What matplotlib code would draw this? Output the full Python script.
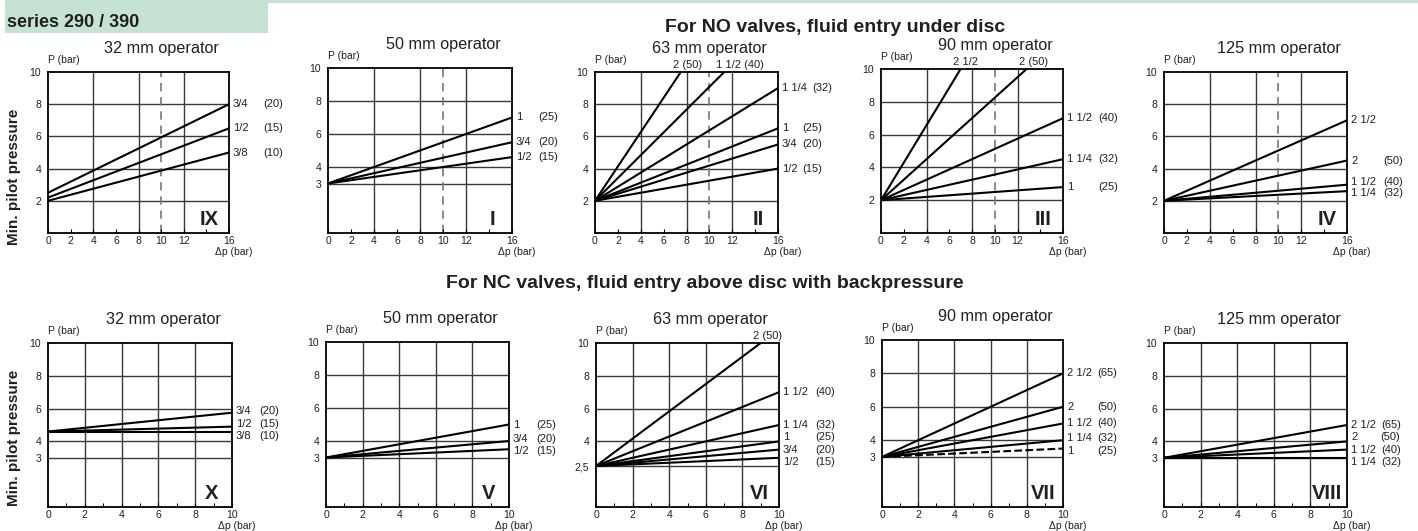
import matplotlib
matplotlib.use('Agg')
import matplotlib.pyplot as plt
from matplotlib.patches import Rectangle

plt.rcParams['font.family'] = ['Liberation Sans', 'DejaVu Sans']

W, H, DPI = 1418, 531, 100
INK = '#231f20'

# ---------------- data ----------------
# NO valves (top row), x = delta p 0..16 bar
no_title = 'For NO valves, fluid entry under disc'
nc_title = 'For NC valves, fluid entry above disc with backpressure'
operators = ['32 mm operator', '50 mm operator', '63 mm operator', '90 mm operator', '125 mm operator']
no_numerals = ['IX', 'I', 'II', 'III', 'IV']
nc_numerals = ['X', 'V', 'VI', 'VII', 'VIII']
no_xticks = [0, 2, 4, 6, 8, 10, 12, 14, 16]
no_xlabels = ['0', '2', '4', '6', '8', '10', '12', '', '16']
nc_xticks = [0, 1, 2, 3, 4, 5, 6, 7, 8, 9, 10]
nc_xlabels = ['0', '', '2', '', '4', '', '6', '', '8', '', '10']

ix_sizes = ['3/4', '1/2', '3/8']
ix_mm = ['(20)', '(15)', '(10)']
ix_p0 = [2.5, 2.2, 2.0]
ix_dp1 = [16, 16, 16]
ix_p1 = [8.0, 6.5, 5.0]
ix_yticks = [2, 4, 6, 8, 10]

i_sizes = ['1', '3/4', '1/2']
i_mm = ['(25)', '(20)', '(15)']
i_p0 = [3.0, 3.0, 3.0]
i_dp1 = [16, 16, 16]
i_p1 = [7.0, 5.5, 4.6]
i_yticks = [3, 4, 6, 8, 10]

ii_sizes = ['2', '1 1/2', '1 1/4', '1', '3/4', '1/2']
ii_mm = ['(50)', '(40)', '(32)', '(25)', '(20)', '(15)']
ii_p0 = [2.0, 2.0, 2.0, 2.0, 2.0, 2.0]
ii_dp1 = [7.5, 11.3, 16, 16, 16, 16]
ii_p1 = [10.0, 10.0, 9.0, 6.5, 5.5, 4.0]
ii_yticks = [2, 4, 6, 8, 10]

iii_sizes = ['2 1/2', '2', '1 1/2', '1 1/4', '1']
iii_mm = ['', '(50)', '(40)', '(32)', '(25)']
iii_p0 = [2.0, 2.0, 2.0, 2.0, 2.0]
iii_dp1 = [7.0, 12.8, 16, 16, 16]
iii_p1 = [10.0, 10.0, 7.0, 4.5, 2.8]
iii_yticks = [2, 4, 6, 8, 10]

iv_sizes = ['2 1/2', '2', '1 1/2', '1 1/4']
iv_mm = ['', '(50)', '(40)', '(32)']
iv_p0 = [2.0, 2.0, 2.0, 2.0]
iv_dp1 = [16, 16, 16, 16]
iv_p1 = [7.0, 4.5, 3.0, 2.6]
iv_yticks = [2, 4, 6, 8, 10]

# NC valves (bottom row), x = delta p 0..10 bar
x_sizes = ['3/4', '1/2', '3/8']
x_mm = ['(20)', '(15)', '(10)']
x_p0 = [4.6, 4.6, 4.6]
x_dp1 = [10, 10, 10]
x_p1 = [5.75, 4.9, 4.6]
x_yticks = [3, 4, 6, 8, 10]

v_sizes = ['1', '3/4', '1/2']
v_mm = ['(25)', '(20)', '(15)']
v_p0 = [3.0, 3.0, 3.0]
v_dp1 = [10, 10, 10]
v_p1 = [5.0, 4.0, 3.5]
v_yticks = [3, 4, 6, 8, 10]

vi_sizes = ['2', '1 1/2', '1 1/4', '1', '3/4', '1/2']
vi_mm = ['(50)', '(40)', '(32)', '(25)', '(20)', '(15)']
vi_p0 = [2.5, 2.5, 2.5, 2.5, 2.5, 2.5]
vi_dp1 = [9.0, 10, 10, 10, 10, 10]
vi_p1 = [10.0, 7.0, 5.0, 4.0, 3.5, 3.0]
vi_yticks = [2.5, 4, 6, 8, 10]

vii_sizes = ['2 1/2', '2', '1 1/2', '1 1/4', '1']
vii_mm = ['(65)', '(50)', '(40)', '(32)', '(25)']
vii_p0 = [3.0, 3.0, 3.0, 3.0, 3.0]
vii_dp1 = [10, 10, 10, 10, 10]
vii_p1 = [8.0, 6.0, 5.0, 4.0, 3.5]
vii_dashed = ['1']
vii_yticks = [3, 4, 6, 8, 10]

viii_sizes = ['2 1/2', '2', '1 1/2', '1 1/4']
viii_mm = ['(65)', '(50)', '(40)', '(32)']
viii_p0 = [3.0, 3.0, 3.0, 3.0]
viii_dp1 = [10, 10, 10, 10]
viii_p1 = [5.0, 4.0, 3.5, 3.0]
viii_yticks = [3, 4, 6, 8, 10]

# ---------------- layout (pixels) ----------------
top_boxes = [(48, 72, 229, 233), (328, 68, 512, 233), (595, 72, 778, 233),
             (881, 69, 1063, 233), (1164, 72, 1347, 233)]
bot_boxes = [(48, 343, 232, 507), (326, 342, 509, 507), (596, 343, 779, 507),
             (882, 340, 1063, 507), (1164, 343, 1347, 507)]
top_mmcol = [34, 26, 24, 35, 36]
bot_mmcol = [27, 27, 36, 34, 33]

PT = 72.0 / DPI  # pixels -> points

fig = plt.figure(figsize=(W / DPI, H / DPI), dpi=DPI)
fig.patch.set_facecolor('white')

# header band
fig.patches.append(Rectangle((5 / W, 1 - 33 / H), 263 / W, 33 / H, transform=fig.transFigure,
                             facecolor='#c6e2d3', edgecolor='none', zorder=0))
fig.patches.append(Rectangle((268 / W, 1 - 3 / H), 1150 / W, 3 / H, transform=fig.transFigure,
                             facecolor='#c6e2d3', edgecolor='none', zorder=0))
fig.text(7 / W, 1 - 27 / H, 'series 290 / 390', fontsize=13, fontweight='bold', color=INK,
         ha='left', va='baseline')
fig.text(835 / W, 1 - 32 / H, no_title, fontsize=14, fontweight='bold', color=INK,
         ha='center', va='baseline')
fig.text(705 / W, 1 - 288 / H, nc_title, fontsize=14, fontweight='bold', color=INK,
         ha='center', va='baseline')
fig.text(14 / W, 1 - 177 / H, 'Min. pilot pressure', rotation=90, fontsize=11, fontweight='bold',
         color=INK, ha='center', va='center')
fig.text(14 / W, 1 - 438 / H, 'Min. pilot pressure', rotation=90, fontsize=11, fontweight='bold',
         color=INK, ha='center', va='center')


def declutter(vals, gap):
    order = sorted(range(len(vals)), key=lambda k: vals[k])
    y = [vals[k] for k in order]
    for _ in range(300):
        moved = False
        for i in range(len(y) - 1):
            d = y[i + 1] - y[i]
            if d < gap - 1e-6:
                s = (gap - d) / 2
                y[i] -= s
                y[i + 1] += s
                moved = True
        if not moved:
            break
    out = [0.0] * len(vals)
    for j, k in enumerate(order):
        out[k] = y[j]
    return out


pending_mm = []


def panel(box, xmax, xticks, xlabels, xgrid, dashed_x, yticks, title, numeral,
          sizes, mm, p0, dp1, p1, mmcol, gap, dashed_sizes=()):
    l, t, r, b = box
    ax = fig.add_axes([l / W, 1 - b / H, (r - l) / W, (b - t) / H])
    ax.set_xlim(0, xmax)
    ax.set_ylim(0, 10)
    for s in ax.spines.values():
        s.set_linewidth(1.3)
        s.set_color('black')
        s.set_zorder(5)
    for gx in xgrid:
        ax.axvline(gx, color='#3a3a3a', lw=1.0, zorder=1)
    for gy in yticks:
        if gy < 10:
            ax.axhline(gy, color='#3a3a3a', lw=1.0, zorder=1)
    if dashed_x is not None:
        ax.axvline(dashed_x, color='#777777', lw=1.2, ls=(0, (5, 3.5)), zorder=1)
    ax.set_xticks(xticks)
    ax.set_xticklabels(xlabels)
    ax.set_yticks(yticks)
    ax.set_yticklabels([('%g' % v).replace('.', ',') for v in yticks])
    ax.tick_params(axis='x', direction='in', length=3, width=0.8, pad=2.5, labelsize=7.5,
                   labelcolor=INK)
    ax.tick_params(axis='y', length=0, pad=5, labelsize=7.5, labelcolor=INK)

    for k in range(len(sizes)):
        ls = '--' if sizes[k] in dashed_sizes else '-'
        ax.plot([0, dp1[k]], [p0[k], p1[k]], color='black', lw=1.5, ls=ls,
                solid_capstyle='butt', zorder=3)

    right = [k for k in range(len(sizes)) if p1[k] < 10]
    ly = declutter([p1[k] for k in right], gap)
    for k, yv in zip(right, ly):
        st = ax.annotate(sizes[k], xy=(1, yv), xycoords=('axes fraction', 'data'),
                         xytext=(4 * PT, 0), textcoords='offset points', ha='left', va='center',
                         fontsize=8, color=INK, annotation_clip=False)
        if mm[k]:
            pending_mm.append((ax, st, mm[k], yv, mmcol))
    for k in range(len(sizes)):
        if p1[k] >= 10:
            lab = (sizes[k] + ' ' + mm[k]).strip()
            ax.annotate(lab, xy=(dp1[k], 10), xycoords='data', xytext=(-8 * PT, 2 * PT),
                        textcoords='offset points', ha='left', va='bottom', fontsize=8,
                        color=INK, annotation_clip=False)

    ax.annotate('P (bar)', xy=(0, 1), xycoords='axes fraction', xytext=(0, 7 * PT),
                textcoords='offset points', ha='left', va='bottom', fontsize=7.5, color=INK)
    ax.annotate('\u0394p (bar)', xy=(1, 0), xycoords='axes fraction', xytext=(-14 * PT, -14 * PT),
                textcoords='offset points', ha='left', va='top', fontsize=7.5, color=INK)
    ax.annotate(title, xy=(0.5, 1), xycoords='axes fraction', xytext=(23 * PT, 19 * PT),
                textcoords='offset points', ha='center', va='baseline', fontsize=11.7, color=INK)
    ax.annotate(numeral, xy=(1, 0), xycoords='axes fraction', xytext=(-20 * PT, 8 * PT),
                textcoords='offset points', ha='center', va='baseline', fontsize=14.5,
                fontweight='bold', color=INK, zorder=6)
    return ax


top_data = [
    (ix_sizes, ix_mm, ix_p0, ix_dp1, ix_p1, ix_yticks, ()),
    (i_sizes, i_mm, i_p0, i_dp1, i_p1, i_yticks, ()),
    (ii_sizes, ii_mm, ii_p0, ii_dp1, ii_p1, ii_yticks, ()),
    (iii_sizes, iii_mm, iii_p0, iii_dp1, iii_p1, iii_yticks, ()),
    (iv_sizes, iv_mm, iv_p0, iv_dp1, iv_p1, iv_yticks, ()),
]
bot_data = [
    (x_sizes, x_mm, x_p0, x_dp1, x_p1, x_yticks, ()),
    (v_sizes, v_mm, v_p0, v_dp1, v_p1, v_yticks, ()),
    (vi_sizes, vi_mm, vi_p0, vi_dp1, vi_p1, vi_yticks, ()),
    (vii_sizes, vii_mm, vii_p0, vii_dp1, vii_p1, vii_yticks, tuple(vii_dashed)),
    (viii_sizes, viii_mm, viii_p0, viii_dp1, viii_p1, viii_yticks, ()),
]

for j in range(5):
    s, m, a0, d1, a1, yt, dsh = top_data[j]
    panel(top_boxes[j], 16, no_xticks, no_xlabels, [4, 8, 12], 10, yt, operators[j],
          no_numerals[j], s, m, a0, d1, a1, top_mmcol[j], 0.68, dsh)
for j in range(5):
    s, m, a0, d1, a1, yt, dsh = bot_data[j]
    panel(bot_boxes[j], 10, nc_xticks, nc_xlabels, [2, 4, 6, 8], None, yt, operators[j],
          nc_numerals[j], s, m, a0, d1, a1, bot_mmcol[j], 0.74, dsh)

fig.canvas.draw()
renderer = fig.canvas.get_renderer()
for ax, st, mtxt, yv, col in pending_mm:
    w = st.get_window_extent(renderer).width
    off = max(col, 4 + w + 5)
    ax.annotate(mtxt, xy=(1, yv), xycoords=('axes fraction', 'data'), xytext=(off * PT, 0),
                textcoords='offset points', ha='left', va='center', fontsize=8, color=INK,
                annotation_clip=False)

fig.savefig('out.png', dpi=DPI)
